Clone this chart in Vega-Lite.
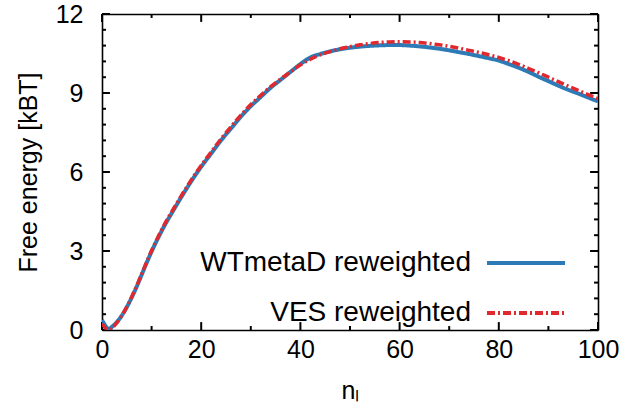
{
  "$schema": "https://vega.github.io/schema/vega-lite/v6.json",
  "width": 496,
  "height": 316,
  "autosize": "none",
  "padding": {"left": 102, "top": 14, "right": 28, "bottom": 90},
  "background": "white",
  "config": {
    "view": {"stroke": null},
    "font": "Liberation Sans",
    "axis": {
      "labelFont": "Liberation Sans",
      "titleFont": "Liberation Sans",
      "labelFontSize": 25,
      "titleFontSize": 25,
      "titleFontWeight": "normal",
      "labelColor": "black",
      "titleColor": "black",
      "domainColor": "black",
      "domainWidth": 1.6,
      "grid": false,
      "ticks": false,
      "format": "d"
    },
    "legend": {"labelFont": "Liberation Sans", "labelFontSize": 28, "labelColor": "black", "labelLimit": 0}
  },
  "datasets": {
    "xticks": [
      {"v": 0, "k": "major"}, {"v": 10, "k": "minor"}, {"v": 20, "k": "major"}, {"v": 30, "k": "minor"},
      {"v": 40, "k": "major"}, {"v": 50, "k": "minor"}, {"v": 60, "k": "major"}, {"v": 70, "k": "minor"},
      {"v": 80, "k": "major"}, {"v": 90, "k": "minor"}, {"v": 100, "k": "major"}
    ],
    "yticks": [
      {"v": 0, "k": "major"}, {"v": 0.6, "k": "minor"}, {"v": 1.2, "k": "minor"}, {"v": 1.8, "k": "minor"}, {"v": 2.4, "k": "minor"},
      {"v": 3, "k": "major"}, {"v": 3.6, "k": "minor"}, {"v": 4.2, "k": "minor"}, {"v": 4.8, "k": "minor"}, {"v": 5.4, "k": "minor"},
      {"v": 6, "k": "major"}, {"v": 6.6, "k": "minor"}, {"v": 7.2, "k": "minor"}, {"v": 7.8, "k": "minor"}, {"v": 8.4, "k": "minor"},
      {"v": 9, "k": "major"}, {"v": 9.6, "k": "minor"}, {"v": 10.2, "k": "minor"}, {"v": 10.8, "k": "minor"}, {"v": 11.4, "k": "minor"},
      {"v": 12, "k": "major"}
    ],
    "wt": [
      {"n": 0, "F": 0.38, "series": "WTmetaD reweighted"},
      {"n": 0.5, "F": 0.22, "series": "WTmetaD reweighted"},
      {"n": 1, "F": 0.08, "series": "WTmetaD reweighted"},
      {"n": 1.5, "F": 0.05, "series": "WTmetaD reweighted"},
      {"n": 2, "F": 0.12, "series": "WTmetaD reweighted"},
      {"n": 3, "F": 0.3, "series": "WTmetaD reweighted"},
      {"n": 4, "F": 0.55, "series": "WTmetaD reweighted"},
      {"n": 5, "F": 0.87, "series": "WTmetaD reweighted"},
      {"n": 6, "F": 1.24, "series": "WTmetaD reweighted"},
      {"n": 7, "F": 1.65, "series": "WTmetaD reweighted"},
      {"n": 8, "F": 2.1, "series": "WTmetaD reweighted"},
      {"n": 9, "F": 2.55, "series": "WTmetaD reweighted"},
      {"n": 10, "F": 2.98, "series": "WTmetaD reweighted"},
      {"n": 11, "F": 3.38, "series": "WTmetaD reweighted"},
      {"n": 12, "F": 3.75, "series": "WTmetaD reweighted"},
      {"n": 13, "F": 4.1, "series": "WTmetaD reweighted"},
      {"n": 14, "F": 4.42, "series": "WTmetaD reweighted"},
      {"n": 16, "F": 5.05, "series": "WTmetaD reweighted"},
      {"n": 18, "F": 5.65, "series": "WTmetaD reweighted"},
      {"n": 20, "F": 6.2, "series": "WTmetaD reweighted"},
      {"n": 22, "F": 6.7, "series": "WTmetaD reweighted"},
      {"n": 24, "F": 7.2, "series": "WTmetaD reweighted"},
      {"n": 26, "F": 7.65, "series": "WTmetaD reweighted"},
      {"n": 28, "F": 8.1, "series": "WTmetaD reweighted"},
      {"n": 30, "F": 8.5, "series": "WTmetaD reweighted"},
      {"n": 32, "F": 8.85, "series": "WTmetaD reweighted"},
      {"n": 34, "F": 9.2, "series": "WTmetaD reweighted"},
      {"n": 36, "F": 9.5, "series": "WTmetaD reweighted"},
      {"n": 38, "F": 9.8, "series": "WTmetaD reweighted"},
      {"n": 40, "F": 10.1, "series": "WTmetaD reweighted"},
      {"n": 42, "F": 10.35, "series": "WTmetaD reweighted"},
      {"n": 44, "F": 10.48, "series": "WTmetaD reweighted"},
      {"n": 46, "F": 10.58, "series": "WTmetaD reweighted"},
      {"n": 48, "F": 10.66, "series": "WTmetaD reweighted"},
      {"n": 50, "F": 10.72, "series": "WTmetaD reweighted"},
      {"n": 52, "F": 10.76, "series": "WTmetaD reweighted"},
      {"n": 54, "F": 10.79, "series": "WTmetaD reweighted"},
      {"n": 56, "F": 10.81, "series": "WTmetaD reweighted"},
      {"n": 58, "F": 10.82, "series": "WTmetaD reweighted"},
      {"n": 60, "F": 10.82, "series": "WTmetaD reweighted"},
      {"n": 62, "F": 10.8, "series": "WTmetaD reweighted"},
      {"n": 64, "F": 10.77, "series": "WTmetaD reweighted"},
      {"n": 66, "F": 10.73, "series": "WTmetaD reweighted"},
      {"n": 68, "F": 10.68, "series": "WTmetaD reweighted"},
      {"n": 70, "F": 10.62, "series": "WTmetaD reweighted"},
      {"n": 72, "F": 10.55, "series": "WTmetaD reweighted"},
      {"n": 74, "F": 10.48, "series": "WTmetaD reweighted"},
      {"n": 76, "F": 10.4, "series": "WTmetaD reweighted"},
      {"n": 78, "F": 10.32, "series": "WTmetaD reweighted"},
      {"n": 80, "F": 10.23, "series": "WTmetaD reweighted"},
      {"n": 82, "F": 10.1, "series": "WTmetaD reweighted"},
      {"n": 84, "F": 9.96, "series": "WTmetaD reweighted"},
      {"n": 86, "F": 9.8, "series": "WTmetaD reweighted"},
      {"n": 88, "F": 9.62, "series": "WTmetaD reweighted"},
      {"n": 90, "F": 9.45, "series": "WTmetaD reweighted"},
      {"n": 92, "F": 9.28, "series": "WTmetaD reweighted"},
      {"n": 94, "F": 9.12, "series": "WTmetaD reweighted"},
      {"n": 96, "F": 8.98, "series": "WTmetaD reweighted"},
      {"n": 98, "F": 8.83, "series": "WTmetaD reweighted"},
      {"n": 100, "F": 8.68, "series": "WTmetaD reweighted"}
    ],
    "ves": [
      {"n": 0, "F": 0.25, "series": "VES reweighted"},
      {"n": 0.5, "F": 0.12, "series": "VES reweighted"},
      {"n": 1, "F": 0.03, "series": "VES reweighted"},
      {"n": 1.5, "F": 0.0, "series": "VES reweighted"},
      {"n": 2, "F": 0.07, "series": "VES reweighted"},
      {"n": 3, "F": 0.28, "series": "VES reweighted"},
      {"n": 4, "F": 0.55, "series": "VES reweighted"},
      {"n": 5, "F": 0.88, "series": "VES reweighted"},
      {"n": 6, "F": 1.26, "series": "VES reweighted"},
      {"n": 7, "F": 1.68, "series": "VES reweighted"},
      {"n": 8, "F": 2.13, "series": "VES reweighted"},
      {"n": 9, "F": 2.58, "series": "VES reweighted"},
      {"n": 10, "F": 3.02, "series": "VES reweighted"},
      {"n": 11, "F": 3.42, "series": "VES reweighted"},
      {"n": 12, "F": 3.8, "series": "VES reweighted"},
      {"n": 13, "F": 4.15, "series": "VES reweighted"},
      {"n": 14, "F": 4.47, "series": "VES reweighted"},
      {"n": 16, "F": 5.1, "series": "VES reweighted"},
      {"n": 18, "F": 5.7, "series": "VES reweighted"},
      {"n": 20, "F": 6.25, "series": "VES reweighted"},
      {"n": 22, "F": 6.76, "series": "VES reweighted"},
      {"n": 24, "F": 7.26, "series": "VES reweighted"},
      {"n": 26, "F": 7.72, "series": "VES reweighted"},
      {"n": 28, "F": 8.16, "series": "VES reweighted"},
      {"n": 30, "F": 8.56, "series": "VES reweighted"},
      {"n": 32, "F": 8.91, "series": "VES reweighted"},
      {"n": 34, "F": 9.24, "series": "VES reweighted"},
      {"n": 36, "F": 9.53, "series": "VES reweighted"},
      {"n": 38, "F": 9.8, "series": "VES reweighted"},
      {"n": 40, "F": 10.07, "series": "VES reweighted"},
      {"n": 42, "F": 10.28, "series": "VES reweighted"},
      {"n": 44, "F": 10.45, "series": "VES reweighted"},
      {"n": 46, "F": 10.57, "series": "VES reweighted"},
      {"n": 48, "F": 10.68, "series": "VES reweighted"},
      {"n": 50, "F": 10.76, "series": "VES reweighted"},
      {"n": 52, "F": 10.83, "series": "VES reweighted"},
      {"n": 54, "F": 10.88, "series": "VES reweighted"},
      {"n": 56, "F": 10.92, "series": "VES reweighted"},
      {"n": 58, "F": 10.94, "series": "VES reweighted"},
      {"n": 60, "F": 10.95, "series": "VES reweighted"},
      {"n": 62, "F": 10.94, "series": "VES reweighted"},
      {"n": 64, "F": 10.92, "series": "VES reweighted"},
      {"n": 66, "F": 10.88, "series": "VES reweighted"},
      {"n": 68, "F": 10.83, "series": "VES reweighted"},
      {"n": 70, "F": 10.77, "series": "VES reweighted"},
      {"n": 72, "F": 10.7, "series": "VES reweighted"},
      {"n": 74, "F": 10.62, "series": "VES reweighted"},
      {"n": 76, "F": 10.54, "series": "VES reweighted"},
      {"n": 78, "F": 10.45, "series": "VES reweighted"},
      {"n": 80, "F": 10.35, "series": "VES reweighted"},
      {"n": 82, "F": 10.23, "series": "VES reweighted"},
      {"n": 84, "F": 10.09, "series": "VES reweighted"},
      {"n": 86, "F": 9.93, "series": "VES reweighted"},
      {"n": 88, "F": 9.77, "series": "VES reweighted"},
      {"n": 90, "F": 9.6, "series": "VES reweighted"},
      {"n": 92, "F": 9.43, "series": "VES reweighted"},
      {"n": 94, "F": 9.26, "series": "VES reweighted"},
      {"n": 96, "F": 9.1, "series": "VES reweighted"},
      {"n": 98, "F": 8.94, "series": "VES reweighted"},
      {"n": 100, "F": 8.79, "series": "VES reweighted"}
    ]
  },
  "layer": [
    {
      "data": {"name": "xticks"},
      "transform": [{"filter": "datum.k === 'major'"}],
      "mark": {"type": "rule", "strokeWidth": 2, "color": "black"},
      "encoding": {
        "x": {"field": "v", "type": "quantitative", "scale": {"domain": [0, 100], "nice": false, "zero": false}, "axis": null},
        "y": {"datum": 0, "type": "quantitative", "scale": {"domain": [0, 12], "nice": false, "zero": false}, "axis": null},
        "y2": {"datum": 0.3}
      }
    },
    {
      "data": {"name": "xticks"},
      "transform": [{"filter": "datum.k === 'minor'"}],
      "mark": {"type": "rule", "strokeWidth": 2, "color": "black"},
      "encoding": {
        "x": {"field": "v", "type": "quantitative", "axis": null},
        "y": {"datum": 0, "type": "quantitative", "axis": null},
        "y2": {"datum": 0.15}
      }
    },
    {
      "data": {"name": "xticks"},
      "transform": [{"filter": "datum.k === 'major'"}],
      "mark": {"type": "rule", "strokeWidth": 2, "color": "black"},
      "encoding": {
        "x": {"field": "v", "type": "quantitative", "axis": null},
        "y": {"datum": 12, "type": "quantitative", "axis": null},
        "y2": {"datum": 11.7}
      }
    },
    {
      "data": {"name": "xticks"},
      "transform": [{"filter": "datum.k === 'minor'"}],
      "mark": {"type": "rule", "strokeWidth": 2, "color": "black"},
      "encoding": {
        "x": {"field": "v", "type": "quantitative", "axis": null},
        "y": {"datum": 12, "type": "quantitative", "axis": null},
        "y2": {"datum": 11.85}
      }
    },
    {
      "data": {"name": "yticks"},
      "transform": [{"filter": "datum.k === 'major'"}],
      "mark": {"type": "rule", "strokeWidth": 2, "color": "black"},
      "encoding": {
        "y": {"field": "v", "type": "quantitative", "axis": null},
        "x": {"datum": 0, "type": "quantitative", "axis": null},
        "x2": {"datum": 1.6}
      }
    },
    {
      "data": {"name": "yticks"},
      "transform": [{"filter": "datum.k === 'minor'"}],
      "mark": {"type": "rule", "strokeWidth": 2, "color": "black"},
      "encoding": {
        "y": {"field": "v", "type": "quantitative", "axis": null},
        "x": {"datum": 0, "type": "quantitative", "axis": null},
        "x2": {"datum": 0.8}
      }
    },
    {
      "data": {"name": "yticks"},
      "transform": [{"filter": "datum.k === 'major'"}],
      "mark": {"type": "rule", "strokeWidth": 2, "color": "black"},
      "encoding": {
        "y": {"field": "v", "type": "quantitative", "axis": null},
        "x": {"datum": 100, "type": "quantitative", "axis": null},
        "x2": {"datum": 98.4}
      }
    },
    {
      "data": {"name": "yticks"},
      "transform": [{"filter": "datum.k === 'minor'"}],
      "mark": {"type": "rule", "strokeWidth": 2, "color": "black"},
      "encoding": {
        "y": {"field": "v", "type": "quantitative", "axis": null},
        "x": {"datum": 100, "type": "quantitative", "axis": null},
        "x2": {"datum": 99.2}
      }
    },
    {
      "data": {"name": "wt"},
      "mark": {"type": "line", "strokeWidth": 4, "interpolate": "monotone", "clip": true},
      "encoding": {
        "x": {
          "field": "n", "type": "quantitative",
          "axis": {
            "orient": "bottom",
            "title": "nₗ",
            "titlePadding": 16,
            "values": [0, 20, 40, 60, 80, 100],
            "labelPadding": 7,
            "labelFlush": false
          }
        },
        "y": {
          "field": "F", "type": "quantitative",
          "axis": {
            "orient": "left",
            "title": "Free energy [kBT]",
            "titlePadding": 14,
            "values": [0, 3, 6, 9, 12],
            "labelPadding": 19,
            "labelFlush": false
          }
        },
        "color": {
          "field": "series", "type": "nominal",
          "scale": {"domain": ["WTmetaD reweighted", "VES reweighted"], "range": ["#2c7bb6", "#e0282e"]},
          "legend": {
            "orient": "none", "legendX": 402.5, "legendY": 227.5,
            "title": null, "symbolType": "M-2,0H2", "symbolSize": 1521,
            "symbolStrokeWidth": 4, "rowPadding": 14,
            "labelAlign": "right", "labelOffset": -76.5, "padding": 0
          }
        },
        "strokeDash": {
          "field": "series", "type": "nominal",
          "scale": {"domain": ["WTmetaD reweighted", "VES reweighted"], "range": [[1, 0], [8, 3, 2, 3]]},
          "legend": {
            "orient": "none", "legendX": 402.5, "legendY": 227.5,
            "title": null, "symbolType": "M-2,0H2", "symbolSize": 1521,
            "symbolStrokeWidth": 4, "rowPadding": 14,
            "labelAlign": "right", "labelOffset": -76.5, "padding": 0
          }
        }
      }
    },
    {
      "data": {"name": "ves"},
      "mark": {"type": "line", "strokeWidth": 3.5, "interpolate": "monotone", "clip": true},
      "encoding": {
        "x": {
          "field": "n", "type": "quantitative",
          "axis": {"orient": "top", "title": null, "labels": false}
        },
        "y": {
          "field": "F", "type": "quantitative",
          "axis": {"orient": "right", "title": null, "labels": false}
        },
        "color": {"field": "series", "type": "nominal"},
        "strokeDash": {"field": "series", "type": "nominal"}
      }
    }
  ],
  "resolve": {"axis": {"x": "independent", "y": "independent"}}
}
